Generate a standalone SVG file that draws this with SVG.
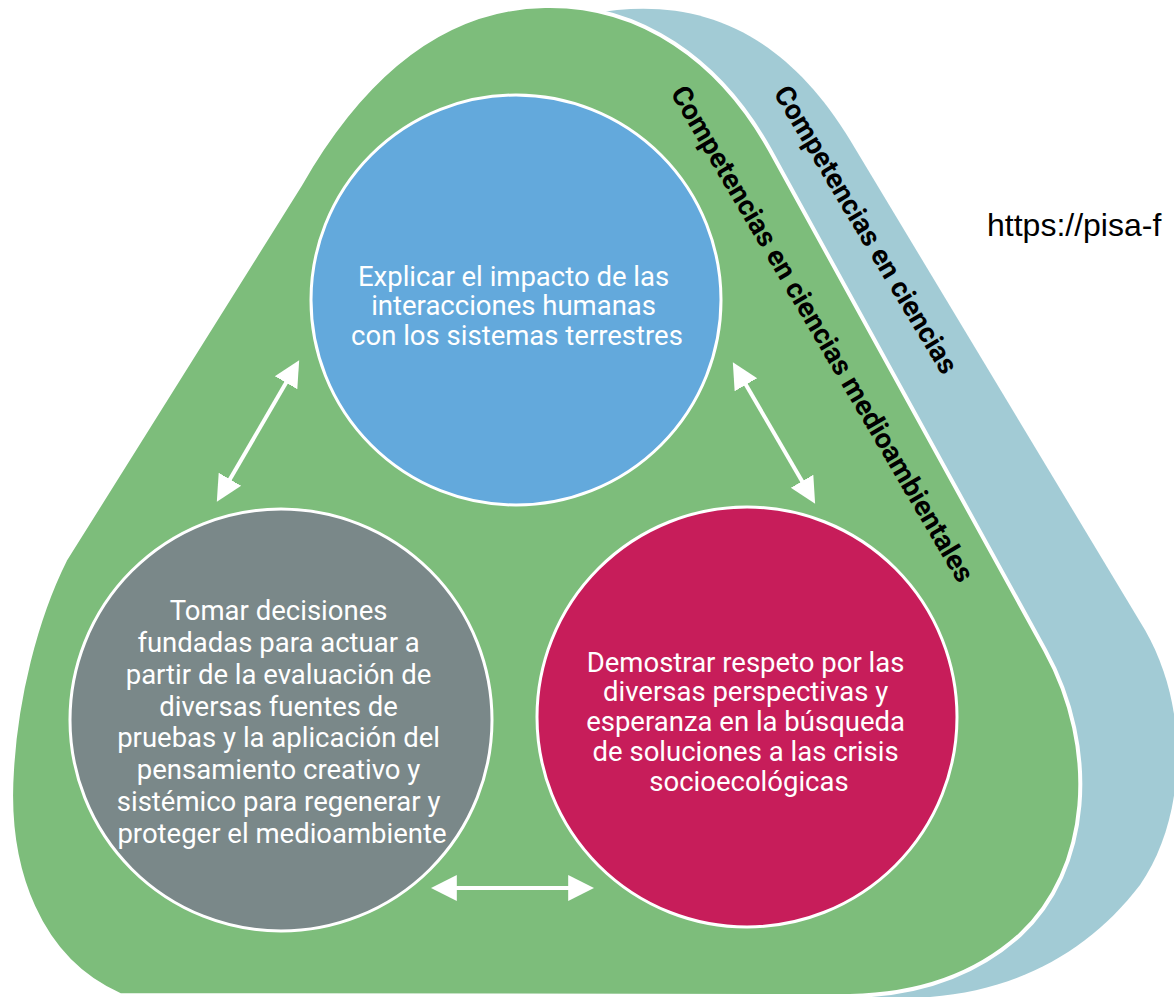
<svg xmlns="http://www.w3.org/2000/svg" width="1174" height="997" viewBox="0 0 1174 997">
  <style>
    .ctext { font-family: Roboto, "Noto Sans", sans-serif; font-size: 27.5px; fill: #ffffff; text-anchor: middle; }
    .label { font-family: Roboto, "Noto Sans", sans-serif; font-size: 28px; font-weight: 700; fill: #000000; }
    .url { font-family: "Liberation Sans", Arial, sans-serif; font-size: 32px; fill: #000000; }
    .arrow { stroke: #ffffff; stroke-width: 4; fill: none; marker-start: url(#head); marker-end: url(#head); }
  </style>
  <defs>
    <marker id="head" viewBox="0 0 10 10" refX="3" refY="5" markerUnits="userSpaceOnUse" markerWidth="26" markerHeight="28" orient="auto-start-reverse">
      <path d="M0,0 L10,5 L0,10 Z" fill="#ffffff"/>
    </marker>
    <path id="p-sci" d="M 773,93 L 1033,527"/>
    <path id="p-env" d="M 670,93 L 1002,658"/>
  </defs>

  <rect width="1174" height="997" fill="#ffffff"/>

  <g id="ciencias">
    <path d="M 590,14 C 690,-5 780,25 850,140 L 1145,630 C 1192,712 1185,820 1140,885 C 1090,950 1020,990 930,997 L 600,997 Z" fill="#a2cbd5"/>
    <text class="label"><textPath href="#p-sci">Competencias en ciencias</textPath></text>
  </g>

  <g id="medioambientales">
    <path d="M 120,995 C 40,960 5,870 12,770 C 16,700 35,620 65,560 L 300,185 C 360,80 440,8 545,6 C 640,4 720,60 770,150 L 1045,650 C 1100,750 1090,870 1020,935 C 970,980 910,995 850,996 Z" fill="#7dbd7b" stroke="#ffffff" stroke-width="4"/>
    <text class="label"><textPath href="#p-env">Competencias en ciencias medioambientales</textPath></text>
  </g>

  <g id="explicar">
    <circle cx="516" cy="300" r="205" fill="#63a9dc" stroke="#ffffff" stroke-width="3"/>
    <text class="ctext">
      <tspan x="517" y="286">Explicar el impacto de las</tspan>
      <tspan x="517" y="315">interacciones humanas</tspan>
      <tspan x="517" y="345">con los sistemas terrestres</tspan>
    </text>
  </g>

  <g id="tomar">
    <circle cx="281" cy="720" r="211" fill="#7a8889" stroke="#ffffff" stroke-width="3"/>
    <text class="ctext">
      <tspan x="282" y="620">Tomar decisiones</tspan>
      <tspan x="282" y="652">fundadas para actuar a</tspan>
      <tspan x="282" y="684">partir de la evaluación de</tspan>
      <tspan x="282" y="716">diversas fuentes de</tspan>
      <tspan x="282" y="747">pruebas y la aplicación del</tspan>
      <tspan x="282" y="779">pensamiento creativo y</tspan>
      <tspan x="282" y="811">sistémico para regenerar y</tspan>
      <tspan x="282" y="843">proteger el medioambiente</tspan>
    </text>
  </g>

  <g id="demostrar">
    <circle cx="747" cy="717" r="210" fill="#c71d5a" stroke="#ffffff" stroke-width="3"/>
    <text class="ctext">
      <tspan x="749" y="672">Demostrar respeto por las</tspan>
      <tspan x="749" y="701">diversas perspectivas y</tspan>
      <tspan x="749" y="731">esperanza en la búsqueda</tspan>
      <tspan x="749" y="761">de soluciones a las crisis</tspan>
      <tspan x="749" y="791">socioecológicas</tspan>
    </text>
  </g>

  <g id="connectors">
    <line class="arrow" x1="226" y1="486" x2="290" y2="376"/>
    <line class="arrow" x1="742" y1="378" x2="806" y2="488"/>
    <line class="arrow" x1="449" y1="888" x2="576" y2="888"/>
  </g>

  <text class="url" x="987" y="236">https://pisa-f</text>
</svg>
